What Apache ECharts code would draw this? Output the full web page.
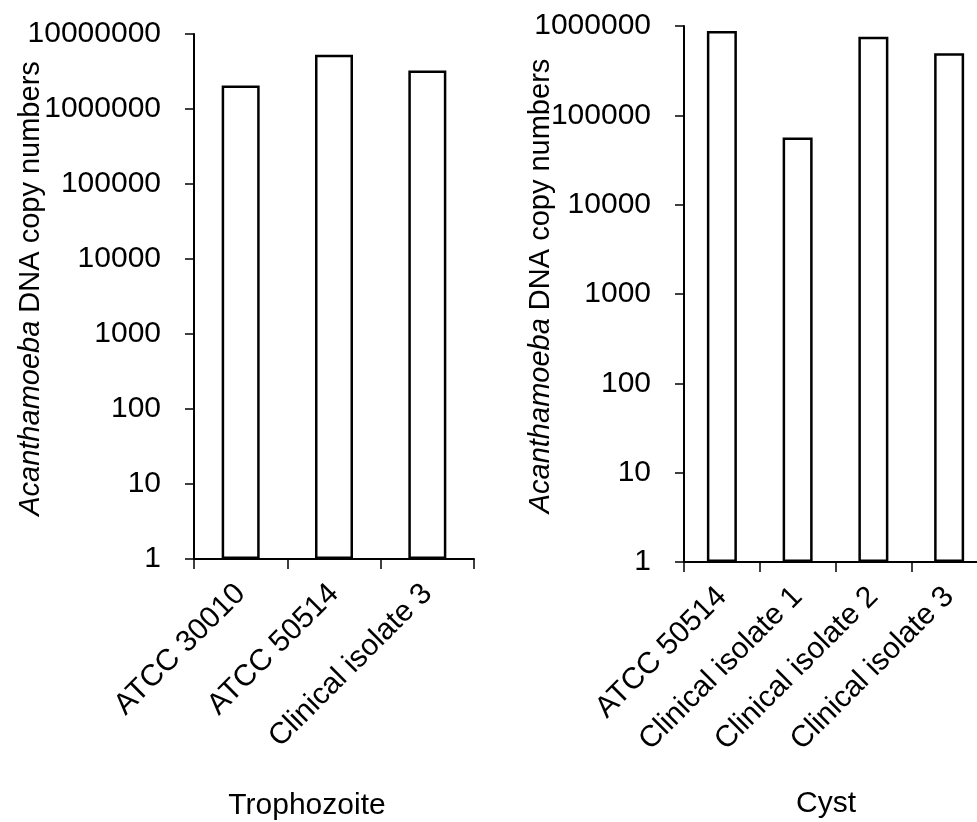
<!DOCTYPE html>
<html><head><meta charset="utf-8">
<script src="https://cdn.jsdelivr.net/npm/echarts@6/dist/echarts.min.js"></script>
<style>html,body{margin:0;padding:0;background:#fff}#c{width:977px;height:822px}</style>
</head><body><div id="c"></div>
<script>
const trophCategories = ['ATCC 30010', 'ATCC 50514', 'Clinical isolate 3'];
const trophValues = [2050000, 5300000, 3270000];
const cystCategories = ['ATCC 50514', 'Clinical isolate 1', 'Clinical isolate 2', 'Clinical isolate 3'];
const cystValues = [877000, 56500, 757000, 494000];
const trophTickLabels = ['1', '10', '100', '1000', '10000', '100000', '1000000', '10000000'];
const cystTickLabels = ['1', '10', '100', '1000', '10000', '100000', '1000000'];
const panelTitles = ['Trophozoite', 'Cyst'];
const yAxisTitle = '{i|Acanthamoeba} DNA copy numbers';

const FONT = '"Liberation Sans", Arial, Helvetica, sans-serif';
const FS = 30;
const NAME_FS = 29;

function yAxisCfg(gridIndex, max, labels, gap) {
  return {
    type: 'log', logBase: 10, gridIndex, min: 1, max,
    splitNumber: labels.length - 1,
    name: yAxisTitle, nameLocation: 'middle', nameRotate: 90, nameGap: gap,
    nameMoveOverlap: false,
    nameTextStyle: { fontSize: NAME_FS, color: '#000', fontFamily: FONT, padding: [0, 0, 0, 16],
      rich: { i: { fontStyle: 'italic', fontSize: NAME_FS, color: '#000', fontFamily: FONT } } },
    axisLine: { show: true, lineStyle: { color: '#000', width: 2 } },
    axisTick: { show: true, length: 9, lineStyle: { color: '#000', width: 1.5 } },
    splitLine: { show: false },
    minorTick: { show: false },
    axisLabel: { fontSize: FS, color: '#000', fontFamily: FONT, margin: 33,
      formatter: v => labels[Math.round(Math.log10(v))] }
  };
}
function xAxisCfg(gridIndex, cats) {
  return {
    type: 'category', gridIndex, data: cats, boundaryGap: true,
    axisLine: { show: true, lineStyle: { color: '#000', width: 2 } },
    axisTick: { show: true, length: 10, alignWithLabel: false, lineStyle: { color: '#000', width: 1.5 } },
    axisLabel: { interval: 0, rotate: 45, fontSize: FS, color: '#000', fontFamily: FONT, margin: 30 }
  };
}
const barStyle = { color: '#fff', borderColor: '#000', borderWidth: 2.5 };

const chart = echarts.init(document.getElementById('c'), null, { renderer: 'canvas' });
chart.setOption({
  animation: false,
  backgroundColor: '#fff',
  grid: [
    { left: 194, top: 34, width: 280, height: 525, outerBoundsMode: 'none', containLabel: false },
    { left: 684, top: 26, width: 303, height: 536, outerBoundsMode: 'none', containLabel: false }
  ],
  xAxis: [xAxisCfg(0, trophCategories), xAxisCfg(1, cystCategories)],
  yAxis: [yAxisCfg(0, 1e7, trophTickLabels, 149), yAxisCfg(1, 1e6, cystTickLabels, 129)],
  series: [
    { type: 'bar', xAxisIndex: 0, yAxisIndex: 0, data: trophValues, barWidth: 38, itemStyle: barStyle },
    { type: 'bar', xAxisIndex: 1, yAxisIndex: 1, data: cystValues, barWidth: 30, itemStyle: barStyle }
  ],
  graphic: [
    { type: 'text', x: 307, y: 806, style: { text: panelTitles[0], fontSize: FS, fontFamily: FONT, fill: '#000', textAlign: 'center', textVerticalAlign: 'middle' } },
    { type: 'text', x: 826, y: 804, style: { text: panelTitles[1], fontSize: FS, fontFamily: FONT, fill: '#000', textAlign: 'center', textVerticalAlign: 'middle' } }
  ]
});
</script></body></html>
